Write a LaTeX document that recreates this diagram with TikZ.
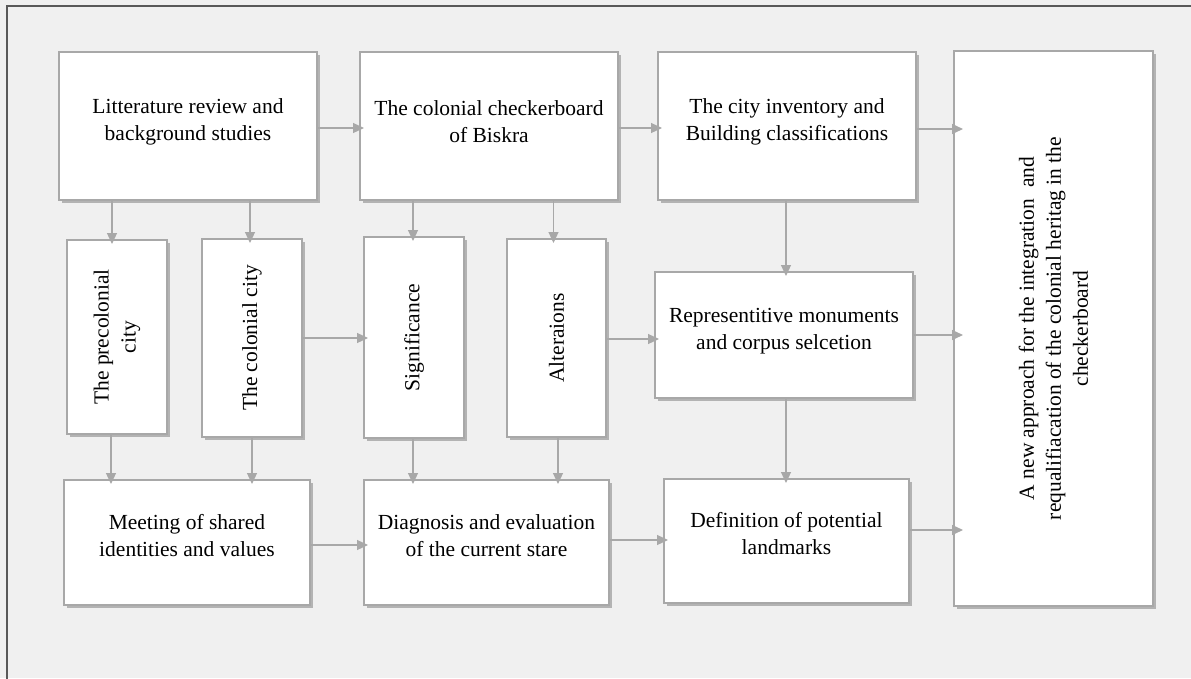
\documentclass[tikz,border=0pt]{standalone}
\usepackage{fontspec}
\setmainfont{Liberation Serif}
\usetikzlibrary{positioning}
\usetikzlibrary{arrows.meta}
\usetikzlibrary{shadows}
\definecolor{pagebg}{RGB}{240,240,240}
\definecolor{framec}{RGB}{89,89,89}
\definecolor{boxline}{RGB}{168,168,168}
\definecolor{arrowc}{RGB}{168,168,168}
\tikzset{
    mybox/.style = {rectangle, draw=boxline, line width=1.3pt, fill=white, inner sep=0pt, outer sep=0pt,
        drop shadow={shadow xshift=3pt, shadow yshift=-3pt, fill=black, opacity=0.25}},
    mytext/.style = {align=center, text=black, yshift=7pt},
    mytextv/.style = {align=center, text=black, rotate=90},
    edgea/.style = {-{Triangle[length=11pt,width=10pt]}, line width=1.2pt, arrowc, shorten >=-4pt},
    edgeb/.style = {edgea, shorten >=-9pt}, % into the last box
}

\begin{document}
\begin{tikzpicture}[x=1pt, y=-1pt, font=\fontsize{21.5}{27}\selectfont]
  \useasboundingbox (0,0) rectangle (1191,678);
  \fill[pagebg] (0,0) rectangle (1191,678);
  \draw[framec, line width=1.6pt] (7,690) -- (7,6) -- (1200,6);

  % top row
  \node[mybox, minimum width=258, minimum height=148,
    label={[mytext, yshift=-3pt]center:Litterature review and\\background studies}] (lit) at (188,126) {};
  \node[mybox, minimum width=258, minimum height=148,
    label={[mytext, yshift=-3pt]center:The colonial checkerboard\\of Biskra}] (chk) at (489,126) {};
  \node[mybox, minimum width=258, minimum height=148,
    label={[mytext, yshift=-3pt]center:The city inventory and\\Building classifications}] (inv) at (787,126) {};
  \node[mybox, minimum width=199, minimum height=555,
    label={[mytextv]center:A new approach for the integration\ \ and\\requalifiacation of the colonial heritag in the\\checkerboard}] (big) at (1053.5,328.5) {};

  % middle row
  \node[mybox, minimum width=100, minimum height=194,
    label={[mytextv]center:The precolonial\\city}] (precol) at (117,337) {};
  \node[mybox, minimum width=100, minimum height=198,
    label={[mytextv]center:The colonial city}] (colcity) at (252,338) {};
  \node[mybox, minimum width=100, minimum height=201,
    label={[mytextv]center:Significance}] (signif) at (414,337.5) {};
  \node[mybox, minimum width=99, minimum height=198,
    label={[mytextv]center:Alteraions}] (alter) at (556.5,338) {};
  \node[mybox, minimum width=258, minimum height=126,
    label={[mytext, yshift=-3pt]center:Representitive monuments\\and corpus selcetion}] (repr) at (784,335) {};

  % bottom row
  \node[mybox, minimum width=246, minimum height=125,
    label={[mytext]center:Meeting of shared\\identities and values}] (meet) at (187,542.5) {};
  \node[mybox, minimum width=245, minimum height=125,
    label={[mytext]center:Diagnosis and evaluation\\of the current stare}] (diag) at (486.5,542.5) {};
  \node[mybox, minimum width=245, minimum height=124,
    label={[mytext]center:Definition of potential\\landmarks}] (defi) at (786.5,541) {};

  \draw[edgea] ([yshift=-2]lit.east) -- ([yshift=-2]lit.east -| chk.west);
  \draw[edgea] ([yshift=-2]chk.east) -- ([yshift=-2]chk.east -| inv.west);
  \draw[edgeb] ([yshift=-3]inv.east) -- ([yshift=-3]inv.east -| big.west);

  \draw[edgea] ([xshift=-5]precol.north |- lit.south) -- ([xshift=-5]precol.north);
  \draw[edgea] ([xshift=-2]colcity.north |- lit.south) -- ([xshift=-2]colcity.north);
  \draw[edgea] ([xshift=-1]signif.north |- chk.south) -- ([xshift=-1]signif.north);
  \draw[edgea] ([xshift=-3]alter.north |- chk.south) -- ([xshift=-3]alter.north);
  \draw[edgea] ([xshift=2]repr.north |- inv.south) -- ([xshift=2]repr.north);

  \draw[edgea] (colcity.east) -- (colcity.east -| signif.west);
  \draw[edgea] ([yshift=-1]alter.east) -- ([yshift=-1]alter.east -| repr.west);
  \draw[edgeb] (repr.east) -- (repr.east -| big.west);

  \draw[edgea] ([xshift=-6]precol.south) -- ([xshift=-6]precol.south |- meet.north);
  \draw[edgea] (colcity.south) -- (colcity.south |- meet.north);
  \draw[edgea] ([xshift=-1]signif.south) -- ([xshift=-1]signif.south |- diag.north);
  \draw[edgea] ([xshift=1.5]alter.south) -- ([xshift=1.5]alter.south |- diag.north);
  \draw[edgea] ([xshift=2]repr.south) -- ([xshift=2]repr.south |- defi.north);

  \draw[edgea] ([yshift=-2.5]meet.east) -- ([yshift=-2.5]meet.east -| diag.west);
  \draw[edgea] ([yshift=2.5]diag.east) -- ([yshift=2.5]diag.east -| defi.west);
  \draw[edgeb] ([yshift=11]defi.east) -- ([yshift=11]defi.east -| big.west);
\end{tikzpicture}
\end{document}
